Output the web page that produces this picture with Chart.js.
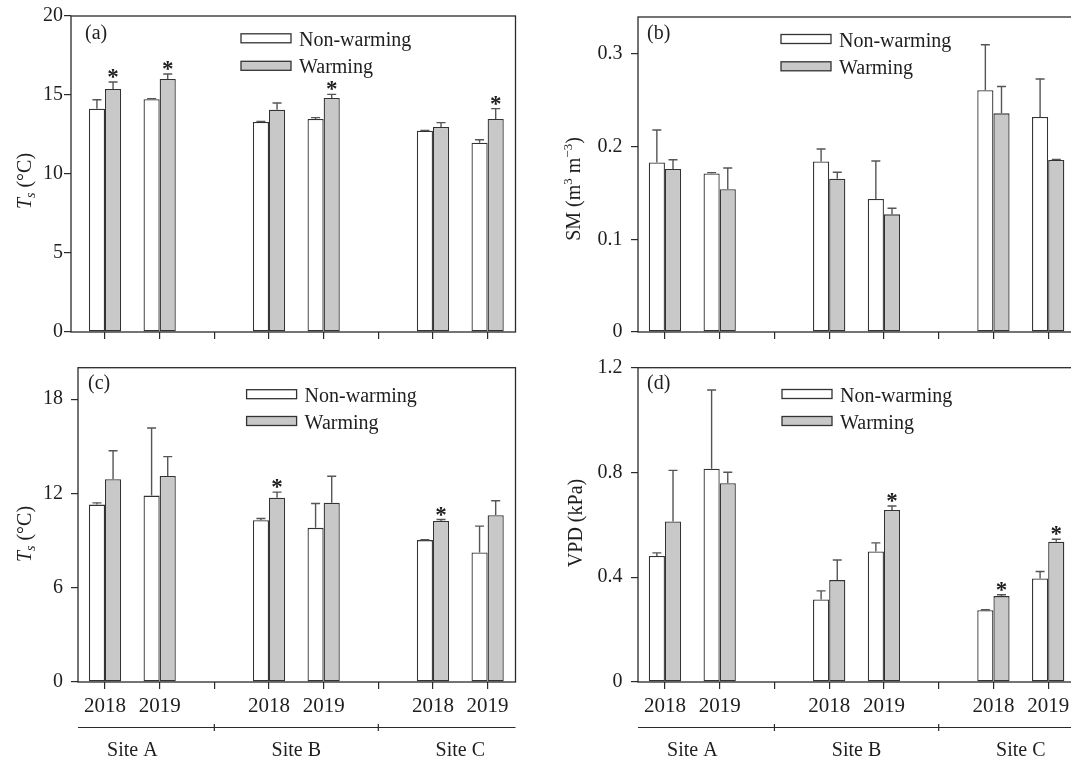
<!DOCTYPE html>
<html>
<head>
<meta charset="utf-8">
<script src="https://cdn.jsdelivr.net/npm/chart.js@4.4.0/dist/chart.umd.min.js"></script>
<style>
    html, body { margin: 0; padding: 0; background: #fff; overflow: hidden; width: 1071px; height: 760px; }
    .panel { position: absolute; }
</style>
</head>
<body>
<div class="panel" style="left:0;top:0"><canvas id="chartA" width="530" height="345"></canvas></div>
<div class="panel" style="left:530px;top:0"><canvas id="chartB" width="560" height="345"></canvas></div>
<div class="panel" style="left:0;top:345px"><canvas id="chartC" width="530" height="415"></canvas></div>
<div class="panel" style="left:530px;top:345px"><canvas id="chartD" width="560" height="415"></canvas></div>
<script>
// x positions: A2018, A2019, B2018, B2019, C2018, C2019 (3 and 6 are site separators)
const positions = [1, 2, 4, 5, 7, 8];
const tickLabels = ['2018', '2019', '', '2018', '2019', '', '2018', '2019'];
const sites = ['Site A', 'Site B', 'Site C'];
const siteCenters = [1.5, 4.5, 7.5];
const separators = [3, 6];

// (a) Ts
const tsNonA = [14.13, 14.73, 13.29, 13.48, 12.74, 11.98];
const tsNonErrA = [0.57, 0.04, 0.04, 0.09, 0.02, 0.19];
const tsWarmA = [15.38, 16.01, 14.07, 14.81, 12.97, 13.48];
const tsWarmErrA = [0.44, 0.32, 0.42, 0.23, 0.28, 0.66];
const starsA = [1, 1, 0, 1, 0, 1];

// (b) SM
const smNon = [0.183, 0.171, 0.184, 0.1435, 0.261, 0.232];
const smNonErr = [0.035, 0.001, 0.0135, 0.041, 0.049, 0.041];
const smWarm = [0.176, 0.154, 0.1655, 0.127, 0.236, 0.1856];
const smWarmErr = [0.010, 0.023, 0.007, 0.0065, 0.029, 0.0007];
const starsB = [0, 0, 0, 0, 0, 0];

// (c) Ts
const tsNonC = [11.29, 11.86, 10.30, 9.81, 9.03, 8.24];
const tsNonErrC = [0.11, 4.30, 0.10, 1.55, 0.02, 1.68];
const tsWarmC = [12.90, 13.11, 11.72, 11.40, 10.25, 10.61];
const tsWarmErrC = [1.82, 1.23, 0.36, 1.69, 0.09, 0.92];
const starsC = [0, 0, 1, 0, 1, 0];

// (d) VPD
const vpdNon = [0.481, 0.814, 0.315, 0.498, 0.274, 0.395];
const vpdNonErr = [0.012, 0.301, 0.033, 0.033, 0.002, 0.027];
const vpdWarm = [0.613, 0.759, 0.389, 0.657, 0.328, 0.535];
const vpdWarmErr = [0.195, 0.042, 0.077, 0.015, 0.005, 0.010];
const starsD = [0, 0, 0, 1, 1, 1];

const FONT = '"Liberation Serif", "Times New Roman", Times, serif';
const INK = '#1e1e1e';
const EDGE = '#333';
const GRAY = '#c8c8c8';

// Draws rotated text made of pieces (italic, sub/superscripts)
function drawRich(ctx, parts, cx, cy) {
    ctx.save();
    ctx.translate(cx, cy);
    ctx.rotate(-Math.PI / 2);
    ctx.textBaseline = 'alphabetic';
    ctx.textAlign = 'left';
    ctx.fillStyle = INK;
    const fontOf = p => `${p.italic ? 'italic ' : ''}${p.size || 20}px ${FONT}`;
    let total = 0;
    parts.forEach(p => { ctx.font = fontOf(p); p.w = ctx.measureText(p.t).width; total += p.w; });
    let x = -total / 2;
    parts.forEach(p => {
        ctx.font = fontOf(p);
        ctx.fillText(p.t, x, 7 + (p.dy || 0));
        x += p.w;
    });
    ctx.restore();
}

const panelDecor = {
    id: 'panelDecor',
    afterDatasetsDraw(chart, args, o) {
        const ctx = chart.ctx;
        const ys = chart.scales.y;
        ctx.save();
        chart.data.datasets.forEach((ds, di) => {
            const meta = chart.getDatasetMeta(di);
            meta.data.forEach((bar, i) => {
                const yTop = ys.getPixelForValue(ds.data[i].y);
                const yErr = ys.getPixelForValue(ds.data[i].y + ds.errors[i]);
                ctx.strokeStyle = '#555';
                ctx.lineWidth = 1.4;
                ctx.beginPath();
                ctx.moveTo(bar.x, yTop);
                ctx.lineTo(bar.x, yErr);
                ctx.moveTo(bar.x - 4.5, yErr);
                ctx.lineTo(bar.x + 4.5, yErr);
                ctx.stroke();
                if (di === 1 && o.stars[i]) {
                    ctx.fillStyle = INK;
                    ctx.font = `bold 23px ${FONT}`;
                    ctx.textAlign = 'center';
                    ctx.textBaseline = 'alphabetic';
                    ctx.fillText('*', bar.x, yErr + 2);
                }
            });
        });
        ctx.restore();
    },
    afterDraw(chart, args, o) {
        const ctx = chart.ctx;
        const a = chart.chartArea;
        const xs = chart.scales.x;
        ctx.save();

        // frame
        ctx.strokeStyle = '#2a2a2a';
        ctx.lineWidth = 1.3;
        ctx.strokeRect(a.left, a.top, a.right - a.left, a.bottom - a.top);

        // panel tag
        ctx.fillStyle = INK;
        ctx.font = `20px ${FONT}`;
        ctx.textAlign = 'left';
        ctx.textBaseline = 'alphabetic';
        ctx.fillText(o.tag, o.tagPos[0], o.tagPos[1]);

        // legend
        const lg = o.legend;
        [['Non-warming', '#fff', lg.y1], ['Warming', GRAY, lg.y2]].forEach(([label, fill, cy]) => {
            ctx.fillStyle = fill;
            ctx.fillRect(lg.x, cy - 4.5, 50, 9);
            ctx.strokeStyle = EDGE;
            ctx.lineWidth = 1.3;
            ctx.strokeRect(lg.x, cy - 4.5, 50, 9);
            ctx.fillStyle = INK;
            ctx.font = `20px ${FONT}`;
            ctx.fillText(label, lg.x + 58, cy + 7.5);
        });

        // y axis title
        drawRich(ctx, o.title.parts, o.title.x, o.title.y);

        // site axis under the year labels
        if (o.siteAxis) {
            const y = o.siteAxis.lineY;
            ctx.strokeStyle = '#2a2a2a';
            ctx.lineWidth = 1.2;
            ctx.beginPath();
            ctx.moveTo(a.left, y);
            ctx.lineTo(a.right, y);
            separators.forEach(s => {
                const px = xs.getPixelForValue(s);
                ctx.moveTo(px, y - 3.5);
                ctx.lineTo(px, y + 3.5);
            });
            ctx.stroke();
            ctx.fillStyle = INK;
            ctx.font = `20px ${FONT}`;
            ctx.textAlign = 'center';
            ctx.textBaseline = 'middle';
            sites.forEach((s, i) => ctx.fillText(s, xs.getPixelForValue(siteCenters[i]), o.siteAxis.labelY));
        }
        ctx.restore();
    }
};

function makePanel(id, p) {
    const ctx = document.getElementById(id).getContext('2d');
    return new Chart(ctx, {
        type: 'bar',
        data: {
            datasets: [
                {
                    label: 'Non-warming',
                    data: positions.map((x, i) => ({ x, y: p.non[i] })),
                    errors: p.nonErr,
                    backgroundColor: '#fff',
                    borderColor: EDGE,
                    borderWidth: 1.3,
                    borderSkipped: false
                },
                {
                    label: 'Warming',
                    data: positions.map((x, i) => ({ x, y: p.warm[i] })),
                    errors: p.warmErr,
                    backgroundColor: GRAY,
                    borderColor: EDGE,
                    borderWidth: 1.3,
                    borderSkipped: false
                }
            ]
        },
        options: {
            responsive: false,
            animation: false,
            devicePixelRatio: 1,
            categoryPercentage: 0.59,
            barPercentage: 1.0,
            layout: { padding: p.padding },
            plugins: {
                legend: { display: false },
                tooltip: { enabled: false },
                panelDecor: p.decor
            },
            scales: {
                x: {
                    type: 'linear',
                    min: p.xMin,
                    max: p.xMax,
                    offset: false,
                    grid: { offset: false, drawOnChartArea: false, drawTicks: true, tickLength: 7, color: '#2a2a2a', lineWidth: 1.2 },
                    border: { display: false },
                    afterBuildTicks: scale => { scale.ticks = tickLabels.map((_, i) => ({ value: i + 1 })); },
                    afterFit: scale => { scale.height = p.xHeight; },
                    ticks: {
                        autoSkip: false,
                        maxRotation: 0,
                        padding: 5,
                        color: INK,
                        font: { family: FONT, size: 21 },
                        callback: v => p.years ? tickLabels[v - 1] : ''
                    }
                },
                y: {
                    min: 0,
                    max: p.yMax,
                    grid: { drawOnChartArea: false, drawTicks: true, tickLength: 7, color: '#2a2a2a', lineWidth: 1.2 },
                    border: { display: false },
                    afterFit: scale => {
                        scale.width = p.yWidth;
                        scale.paddingTop = 0;
                        scale.paddingBottom = 0;
                    },
                    ticks: {
                        stepSize: p.yStep,
                        includeBounds: false,
                        padding: p.tickPad,
                        color: INK,
                        font: { family: FONT, size: 20 },
                        callback: v => v === 0 ? '0' : (p.yDigits ? v.toFixed(p.yDigits) : String(Math.round(v)))
                    }
                }
            }
        },
        plugins: [panelDecor]
    });
}

const tsTitle = [{ t: 'T', italic: true }, { t: 's', italic: true, size: 14, dy: 4 }, { t: ' (\u00B0C)' }];

makePanel('chartA', {
    non: tsNonA, nonErr: tsNonErrA, warm: tsWarmA, warmErr: tsWarmErrA,
    xMin: 0.378, xMax: 8.51, yMax: 20, yStep: 5, yDigits: 0,
    yWidth: 71, xHeight: 13, tickPad: 1, years: false,
    padding: { top: 16, right: 14.5, left: 0, bottom: 0 },
    decor: {
        stars: starsA, tag: '(a)', tagPos: [85, 38.5],
        legend: { x: 241, y1: 38.3, y2: 65.8 },
        title: { parts: tsTitle, x: 24, y: 181 }
    }
});

makePanel('chartB', {
    non: smNon, nonErr: smNonErr, warm: smWarm, warmErr: smWarmErr,
    xMin: 0.508, xMax: 8.49, yMax: 0.34, yStep: 0.1, yDigits: 1,
    yWidth: 108, xHeight: 13, tickPad: 8.5, years: false,
    padding: { top: 17, right: 15, left: 0, bottom: 0 },
    decor: {
        stars: starsB, tag: '(b)', tagPos: [117, 39],
        legend: { x: 251, y1: 39, y2: 66.3 },
        title: {
            parts: [{ t: 'SM (m' }, { t: '3', size: 13, dy: -8 }, { t: ' m' }, { t: '\u22123', size: 13, dy: -8 }, { t: ')' }],
            x: 43, y: 189
        }
    }
});

makePanel('chartC', {
    non: tsNonC, nonErr: tsNonErrC, warm: tsWarmC, warmErr: tsWarmErrC,
    xMin: 0.506, xMax: 8.51, yMax: 20, yStep: 6, yDigits: 0,
    yWidth: 78, xHeight: 78, tickPad: 8, years: true,
    padding: { top: 22.7, right: 14.5, left: 0, bottom: 0 },
    decor: {
        stars: starsC, tag: '(c)', tagPos: [88, 44],
        legend: { x: 246.6, y1: 49.2, y2: 76 },
        title: { parts: tsTitle, x: 24, y: 189 },
        siteAxis: { lineY: 382.5, labelY: 405.5 }
    }
});

makePanel('chartD', {
    non: vpdNon, nonErr: vpdNonErr, warm: vpdWarm, warmErr: vpdWarmErr,
    xMin: 0.508, xMax: 8.49, yMax: 1.2, yStep: 0.4, yDigits: 1,
    yWidth: 108, xHeight: 78, tickPad: 8.5, years: true,
    padding: { top: 22.7, right: 15, left: 0, bottom: 0 },
    decor: {
        stars: starsD, tag: '(d)', tagPos: [117, 44],
        legend: { x: 252, y1: 49, y2: 76 },
        title: { parts: [{ t: 'VPD (kPa)' }], x: 45, y: 178 },
        siteAxis: { lineY: 382.5, labelY: 405.5 }
    }
});
</script>
</body>
</html>
